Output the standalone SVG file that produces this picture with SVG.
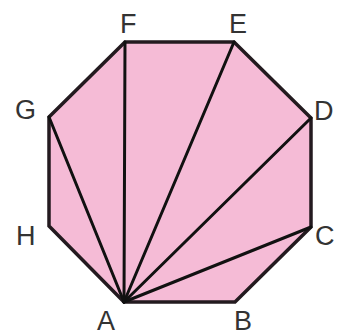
<svg xmlns="http://www.w3.org/2000/svg" width="343" height="336" viewBox="0 0 343 336">
<style>
.oct{fill:#f5bbd6;stroke:#231a1f;stroke-width:3.5;stroke-linejoin:miter}
.d{stroke:#111;stroke-width:3;fill:none;stroke-linecap:round}
.lbl{font-family:"Liberation Sans",Arial,sans-serif;font-size:27px;fill:#333}
</style>
<rect width="343" height="336" fill="#fff"/>
<g id="octagon">
<polygon class="oct" points="124,302 235,302 311,227 311,118 234,42 125,42 49,117 49,226"/>
</g>
<g id="connectors">
<line class="d" x1="124" y1="302" x2="311" y2="227"/>
<line class="d" x1="124" y1="302" x2="311" y2="118"/>
<line class="d" x1="124" y1="302" x2="234" y2="42"/>
<line class="d" x1="124" y1="302" x2="125" y2="42"/>
<line class="d" x1="124" y1="302" x2="49" y2="117"/>
</g>
<g id="labels">
<text class="lbl" x="120" y="33">F</text>
<text class="lbl" x="229" y="33">E</text>
<text class="lbl" x="15" y="119">G</text>
<text class="lbl" x="16" y="245">H</text>
<text class="lbl" x="314" y="120">D</text>
<text class="lbl" x="315" y="245">C</text>
<text class="lbl" x="97" y="330">A</text>
<text class="lbl" x="234" y="330">B</text>
</g>
</svg>
